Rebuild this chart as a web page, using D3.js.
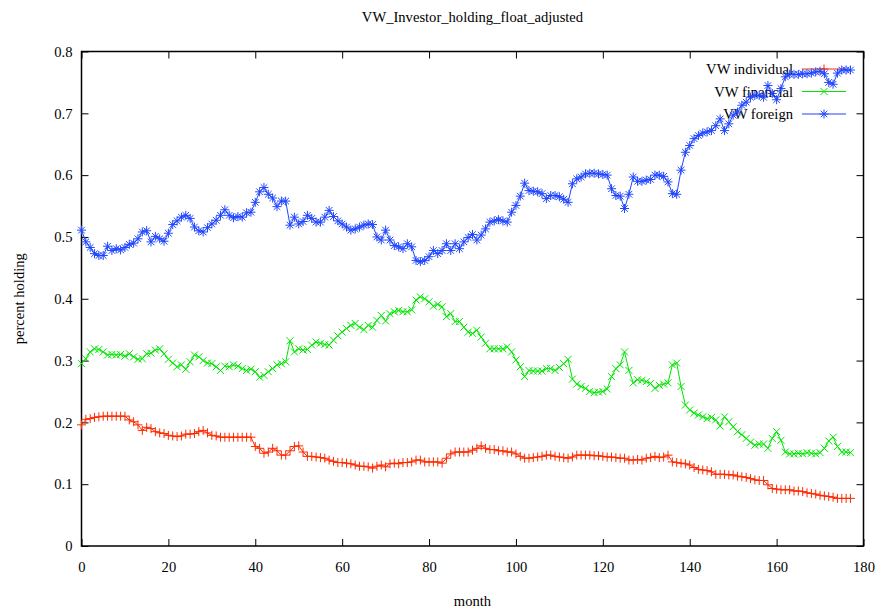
<!DOCTYPE html>
<html>
<head>
<meta charset="utf-8">
<script src="https://cdn.jsdelivr.net/npm/d3@7"></script>
<style>
  body { margin: 0; background: #fff; }
  svg { display: block; font-family: "Liberation Serif", "DejaVu Serif", serif; }
</style>
</head>
<body>
<svg id="chart" width="877" height="611"></svg>
<script>
// months 0..177
var individual = [
  0.196, 0.205, 0.206, 0.208, 0.209, 0.210, 0.210, 0.210, 0.210, 0.210,
  0.210, 0.204, 0.201, 0.196, 0.187, 0.192, 0.190, 0.185, 0.183, 0.182,
  0.179, 0.178, 0.177, 0.178, 0.181, 0.181, 0.182, 0.185, 0.187, 0.183,
  0.179, 0.178, 0.176, 0.176, 0.176, 0.176, 0.176, 0.176, 0.176, 0.176,
  0.161, 0.158, 0.150, 0.152, 0.158, 0.154, 0.147, 0.147, 0.154, 0.161,
  0.162, 0.152, 0.145, 0.145, 0.144, 0.143, 0.142, 0.139, 0.137, 0.135,
  0.135, 0.134, 0.133, 0.131, 0.129, 0.129, 0.128, 0.126, 0.129, 0.131,
  0.128, 0.133, 0.134, 0.133, 0.135, 0.135, 0.136, 0.139, 0.139, 0.136,
  0.136, 0.136, 0.136, 0.134, 0.142, 0.149, 0.152, 0.152, 0.152, 0.152,
  0.155, 0.158, 0.162, 0.158, 0.156, 0.156, 0.154, 0.154, 0.152, 0.152,
  0.149, 0.145, 0.142, 0.142, 0.143, 0.144, 0.145, 0.147, 0.147, 0.145,
  0.144, 0.143, 0.142, 0.144, 0.147, 0.147, 0.147, 0.147, 0.146, 0.146,
  0.145, 0.144, 0.144, 0.143, 0.142, 0.142, 0.139, 0.139, 0.140, 0.139,
  0.142, 0.143, 0.145, 0.143, 0.144, 0.147, 0.136, 0.135, 0.134, 0.133,
  0.131, 0.127, 0.124, 0.123, 0.122, 0.120, 0.116, 0.116, 0.116, 0.115,
  0.115, 0.113, 0.112, 0.111, 0.109, 0.107, 0.106, 0.106, 0.099, 0.093,
  0.092, 0.091, 0.091, 0.091, 0.089, 0.089, 0.088, 0.086, 0.085, 0.084,
  0.082, 0.081, 0.080, 0.079, 0.077, 0.077, 0.077, 0.077
];

var financial = [
  0.295, 0.303, 0.314, 0.319, 0.318, 0.314, 0.309, 0.310, 0.309, 0.310,
  0.307, 0.311, 0.306, 0.302, 0.303, 0.311, 0.312, 0.317, 0.319, 0.311,
  0.302, 0.296, 0.290, 0.293, 0.286, 0.298, 0.309, 0.306, 0.300, 0.296,
  0.295, 0.290, 0.284, 0.291, 0.290, 0.293, 0.291, 0.287, 0.284, 0.286,
  0.282, 0.273, 0.276, 0.282, 0.287, 0.293, 0.295, 0.298, 0.332, 0.314,
  0.319, 0.317, 0.318, 0.325, 0.330, 0.328, 0.326, 0.325, 0.333, 0.340,
  0.346, 0.352, 0.357, 0.360, 0.354, 0.350, 0.357, 0.354, 0.365, 0.373,
  0.364, 0.376, 0.379, 0.381, 0.379, 0.379, 0.382, 0.398, 0.403, 0.400,
  0.395, 0.388, 0.391, 0.387, 0.371, 0.376, 0.363, 0.363, 0.354, 0.346,
  0.344, 0.349, 0.338, 0.328, 0.319, 0.319, 0.319, 0.319, 0.322, 0.314,
  0.301, 0.290, 0.274, 0.284, 0.283, 0.283, 0.283, 0.287, 0.287, 0.284,
  0.289, 0.295, 0.302, 0.270, 0.262, 0.258, 0.255, 0.250, 0.248, 0.249,
  0.250, 0.254, 0.274, 0.287, 0.293, 0.314, 0.284, 0.264, 0.269, 0.268,
  0.266, 0.263, 0.255, 0.260, 0.262, 0.264, 0.293, 0.296, 0.258, 0.228,
  0.220, 0.215, 0.212, 0.209, 0.206, 0.208, 0.204, 0.194, 0.209, 0.201,
  0.193, 0.185, 0.180, 0.174, 0.168, 0.163, 0.165, 0.165, 0.158, 0.174,
  0.185, 0.171, 0.152, 0.149, 0.149, 0.150, 0.149, 0.151, 0.150, 0.149,
  0.151, 0.158, 0.170, 0.176, 0.161, 0.152, 0.152, 0.151
];

var foreign = [
  0.511, 0.492, 0.483, 0.473, 0.470, 0.470, 0.485, 0.478, 0.481, 0.479,
  0.483, 0.488, 0.490, 0.497, 0.508, 0.510, 0.492, 0.501, 0.497, 0.493,
  0.506, 0.520, 0.526, 0.532, 0.535, 0.530, 0.516, 0.510, 0.508, 0.515,
  0.521, 0.527, 0.535, 0.544, 0.535, 0.531, 0.533, 0.532, 0.539, 0.540,
  0.556, 0.573, 0.580, 0.569, 0.563, 0.549, 0.558, 0.558, 0.519, 0.532,
  0.521, 0.525, 0.535, 0.530, 0.524, 0.524, 0.532, 0.543, 0.533, 0.526,
  0.521, 0.516, 0.511, 0.513, 0.516, 0.519, 0.521, 0.520, 0.500, 0.495,
  0.511, 0.495, 0.486, 0.484, 0.481, 0.489, 0.484, 0.462, 0.460, 0.462,
  0.468, 0.478, 0.473, 0.478, 0.489, 0.478, 0.489, 0.481, 0.492, 0.499,
  0.504, 0.495, 0.503, 0.513, 0.524, 0.526, 0.528, 0.526, 0.524, 0.540,
  0.551, 0.566, 0.587, 0.575, 0.574, 0.573, 0.570, 0.562, 0.567, 0.567,
  0.565, 0.561, 0.556, 0.586, 0.594, 0.597, 0.602, 0.603, 0.603, 0.602,
  0.601, 0.600, 0.578, 0.567, 0.566, 0.546, 0.569, 0.597, 0.590, 0.590,
  0.592, 0.593, 0.600, 0.600, 0.598, 0.589, 0.570, 0.569, 0.608, 0.637,
  0.648, 0.659, 0.664, 0.668, 0.670, 0.672, 0.680, 0.691, 0.672, 0.683,
  0.697, 0.702, 0.713, 0.718, 0.726, 0.729, 0.729, 0.726, 0.745, 0.732,
  0.722, 0.740, 0.759, 0.763, 0.763, 0.763, 0.764, 0.764, 0.765, 0.767,
  0.768, 0.764, 0.750, 0.747, 0.765, 0.770, 0.770, 0.770
];

var seriesNames = ["VW individual", "VW financial", "VW foreign"];
var seriesColors = ["#ff2a00", "#00e600", "#1f45ff"];
var xTicks = [0, 20, 40, 60, 80, 100, 120, 140, 160, 180];
var yTicks = [0, 0.1, 0.2, 0.3, 0.4, 0.5, 0.6, 0.7, 0.8];

var svg = d3.select("#chart");
var plotLeft = 81.5, plotRight = 863.5, plotTop = 51.5, plotBottom = 546;
var fontSize = "14.6px";

var x = d3.scaleLinear().domain([0, 180]).range([plotLeft, plotRight]);
var y = d3.scaleLinear().domain([0, 0.8]).range([plotBottom, plotTop]);

// marker shapes, gnuplot style
var shapes = [
  "M-4.5,0H4.5M0,-4.5V4.5",
  "M-3.5,-3.5L3.5,3.5M-3.5,3.5L3.5,-3.5",
  "M-4.5,0H4.5M0,-4.5V4.5M-3.3,-3.3L3.3,3.3M-3.3,3.3L3.3,-3.3"
];

// axes: ticks inward on all four sides
svg.append("g")
    .attr("transform", "translate(0," + plotBottom + ")")
    .call(d3.axisBottom(x).tickValues(xTicks).tickSizeInner(-7).tickSizeOuter(0).tickPadding(16).tickFormat(d3.format("d")))
    .call(g => g.select(".domain").remove());
svg.append("g")
    .attr("transform", "translate(0," + plotTop + ")")
    .call(d3.axisTop(x).tickValues(xTicks).tickSizeInner(-7).tickSizeOuter(0).tickFormat(""))
    .call(g => g.select(".domain").remove());
svg.append("g")
    .attr("transform", "translate(" + plotLeft + ",0)")
    .call(d3.axisLeft(y).tickValues(yTicks).tickSizeInner(-7).tickSizeOuter(0).tickPadding(9).tickFormat(d => d === 0 ? "0" : d3.format(".1f")(d)))
    .call(g => g.select(".domain").remove());
svg.append("g")
    .attr("transform", "translate(" + plotRight + ",0)")
    .call(d3.axisRight(y).tickValues(yTicks).tickSizeInner(-7).tickSizeOuter(0).tickFormat(""))
    .call(g => g.select(".domain").remove());

svg.selectAll(".tick line").attr("stroke", "#000").attr("stroke-width", 1);
svg.selectAll(".tick text")
    .attr("fill", "#000")
    .style("font-family", "'Liberation Serif', serif")
    .style("font-size", fontSize);

svg.append("rect")
    .attr("x", plotLeft).attr("y", plotTop)
    .attr("width", plotRight - plotLeft).attr("height", plotBottom - plotTop)
    .attr("fill", "none").attr("stroke", "#000").attr("stroke-width", 1.5);

// titles
svg.append("text")
    .attr("x", (plotLeft + plotRight) / 2).attr("y", 22)
    .attr("text-anchor", "middle")
    .style("font-size", fontSize)
    .text("VW_Investor_holding_float_adjusted");
svg.append("text")
    .attr("x", (plotLeft + plotRight) / 2).attr("y", 606)
    .attr("text-anchor", "middle")
    .style("font-size", fontSize)
    .text("month");
svg.append("text")
    .attr("transform", "translate(24," + ((plotTop + plotBottom) / 2) + ") rotate(-90)")
    .attr("text-anchor", "middle")
    .style("font-size", fontSize)
    .text("percent holding");

var line = d3.line()
    .x((d, i) => x(i))
    .y(d => y(d));

[individual, financial, foreign].forEach(function (data, k) {
    var col = seriesColors[k];
    var ly = 69 + k * 22.5;

    // legend entry
    var lg = svg.append("g").attr("class", "legend");
    lg.append("text")
        .attr("x", 793).attr("y", ly + 5)
        .attr("text-anchor", "end")
        .style("font-size", fontSize)
        .text(seriesNames[k]);
    lg.append("line")
        .attr("x1", 802).attr("x2", 846)
        .attr("y1", ly).attr("y2", ly)
        .attr("stroke", col).attr("stroke-width", 1);
    lg.append("path")
        .attr("d", shapes[k])
        .attr("transform", "translate(824," + ly + ")")
        .attr("fill", "none").attr("stroke", col).attr("stroke-width", 1);

    // series
    var g = svg.append("g").attr("class", "series");
    g.append("path")
        .datum(data)
        .attr("d", line)
        .attr("fill", "none")
        .attr("stroke", col)
        .attr("stroke-width", 1);
    g.selectAll(".pt")
        .data(data)
        .enter()
        .append("path")
        .attr("class", "pt")
        .attr("d", shapes[k])
        .attr("transform", (d, i) => "translate(" + x(i) + "," + y(d) + ")")
        .attr("fill", "none")
        .attr("stroke", col)
        .attr("stroke-width", 1);
});
</script>
</body>
</html>
